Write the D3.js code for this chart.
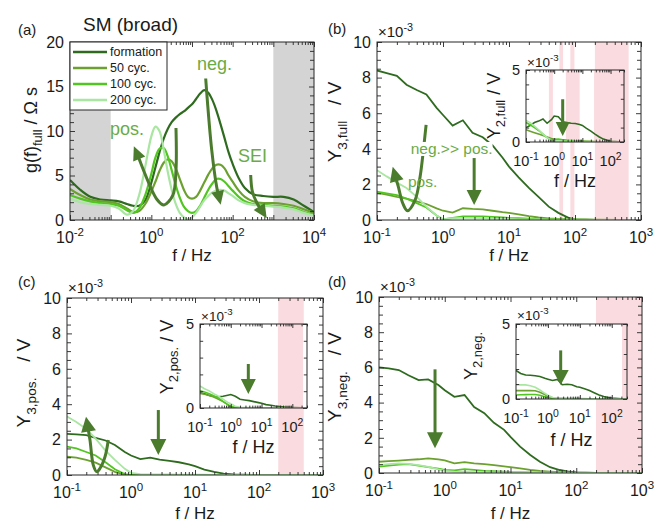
<!DOCTYPE html>
<html>
<head>
<meta charset="utf-8">
<script src="https://cdn.jsdelivr.net/npm/d3@7"></script>
<style>
  body { margin: 0; background: #fff; }
  svg { font-family: "Liberation Sans", Arial, Helvetica, sans-serif; }
</style>
</head>
<body>
<svg id="fig" width="654" height="524"></svg>
<script>
// ---- data ----
var names  = ["formation", "50 cyc.", "100 cyc.", "200 cyc."];
var colors = ["#2e6b1f", "#6ca12f", "#52c620", "#a9e6a1"];

// (a) distribution of relaxation times, x = log10(f / Hz), g in Ohm s
var logFa = [-2, -1.75, -1.5, -1.25, -1, -0.8, -0.6, -0.45, -0.3, -0.15, 0, 0.1, 0.2, 0.3, 0.4, 0.5, 0.6, 0.7, 0.8, 0.9,
             1.0, 1.1, 1.2, 1.3, 1.4, 1.5, 1.6, 1.7, 1.8, 1.9, 2.0, 2.15, 2.3, 2.5, 2.75, 3, 3.25, 3.5, 3.75, 4];
var gForm = [4.5, 3.4, 2.6, 2.3, 2.2, 2.1, 1.8, 1.6, 1.6, 2.2, 4.2, 5.9, 7.6, 9.1, 10.2, 11.0, 11.5, 11.9, 12.2, 12.6,
             13.0, 13.6, 14.2, 14.6, 14.3, 13.5, 12.3, 10.8, 9.2, 7.6, 6.3, 4.7, 3.6, 2.9, 2.7, 2.6, 2.6, 2.3, 1.6, 0.9];
var g50   = [3.5, 2.8, 2.3, 2.1, 2.0, 1.8, 1.3, 0.9, 1.0, 1.8, 3.2, 4.3, 5.5, 6.4, 6.8, 6.6, 5.8, 4.6, 3.4, 2.6,
             2.4, 2.6, 3.3, 4.2, 5.1, 5.8, 6.2, 6.2, 5.8, 5.0, 4.3, 3.3, 2.6, 2.1, 1.9, 1.9, 1.8, 1.6, 1.2, 0.8];
var g100  = [2.8, 2.4, 2.1, 1.9, 1.8, 1.6, 1.1, 0.8, 1.3, 2.8, 5.2, 7.0, 8.0, 8.1, 7.2, 5.6, 3.9, 2.5, 1.5, 1.0,
             0.8, 1.0, 1.6, 2.5, 3.4, 4.1, 4.6, 4.6, 4.3, 3.8, 3.3, 2.6, 2.1, 1.8, 1.7, 1.6, 1.5, 1.3, 0.9, 0.6];
var g200  = [2.4, 2.0, 1.8, 1.7, 1.6, 1.3, 0.6, 1.0, 2.8, 6.0, 9.4, 10.5, 10.0, 8.0, 5.5, 3.4, 1.8, 0.8, 0.3, 0.1,
             0.3, 0.8, 1.5, 2.2, 2.7, 3.1, 3.3, 3.4, 3.3, 3.0, 2.7, 2.2, 1.9, 1.7, 1.6, 1.5, 1.4, 1.2, 0.8, 0.5];

// (b)-(d) harmonics, f in Hz, Y in 1e-3 V
var freq = [0.1, 0.14, 0.2, 0.28, 0.4, 0.56, 0.8, 1, 1.4, 2, 2.8, 4, 5.6, 8, 10, 14, 20, 28, 40, 56, 80, 100, 200, 500, 1000];

var y3Full = [
  [8.4, 8.25, 8.1, 7.6, 7.3, 7.05, 6.3, 5.9, 5.3, 5.6, 4.9, 4.65, 4.2, 3.5, 3.0, 2.4, 1.8, 1.3, 0.75, 0.4, 0.12, 0.03, 0, 0, 0],
  [1.53, 1.42, 1.3, 1.2, 1.05, 0.9, 0.65, 0.52, 0.42, 0.66, 0.62, 0.6, 0.52, 0.44, 0.4, 0.32, 0.22, 0.14, 0.09, 0.06, 0.04, 0.03, 0.02, 0.01, 0.01],
  [1.6, 1.5, 1.4, 1.2, 0.95, 0.7, 0.25, 0.03, 0.12, 0.2, 0.2, 0.2, 0.18, 0.15, 0.12, 0.1, 0.07, 0.05, 0.04, 0.03, 0.02, 0.02, 0.01, 0.01, 0.01],
  [2.8, 2.45, 2.1, 1.8, 1.3, 0.75, 0.25, 0.05, 0.1, 0.12, 0.12, 0.1, 0.08, 0.06, 0.05, 0.04, 0.03, 0.03, 0.02, 0.02, 0.02, 0.02, 0.01, 0.01, 0.01]
];
var y2Full = [
  [1.0, 1.15, 1.35, 1.45, 1.6, 1.3, 1.55, 1.8, 1.75, 1.4, 1.35, 1.3, 1.28, 1.22, 1.15, 0.95, 0.75, 0.55, 0.35, 0.2, 0.1, 0.05, 0.01, 0, 0],
  [0.85, 0.75, 0.65, 0.55, 0.45, 0.35, 0.25, 0.2, 0.15, 0.15, 0.12, 0.1, 0.08, 0.07, 0.06, 0.05, 0.04, 0.03, 0.02, 0.02, 0.01, 0.01, 0.01, 0, 0],
  [1.35, 1.2, 1.0, 0.8, 0.55, 0.3, 0.15, 0.15, 0.2, 0.15, 0.1, 0.08, 0.06, 0.05, 0.04, 0.03, 0.02, 0.02, 0.01, 0.01, 0.01, 0.01, 0, 0, 0],
  [1.5, 1.35, 1.1, 0.85, 0.55, 0.3, 0.12, 0.08, 0.08, 0.06, 0.05, 0.04, 0.04, 0.03, 0.03, 0.02, 0.02, 0.02, 0.02, 0.01, 0.01, 0.01, 0.01, 0, 0]
];
var y3Pos = [
  [2.32, 2.3, 2.25, 2.1, 1.95, 1.7, 1.3, 1.1, 0.9, 0.98, 0.87, 0.8, 0.72, 0.6, 0.5, 0.3, 0.18, 0.08, 0.03, 0.02, 0.01, 0.01, 0, 0, 0],
  [1.03, 0.98, 0.85, 0.7, 0.43, 0.18, 0.02, 0, 0, 0, 0, 0, 0, 0, 0, 0, 0, 0, 0, 0, 0, 0, 0, 0, 0],
  [1.6, 1.5, 1.3, 1.1, 0.72, 0.32, 0.05, 0.01, 0, 0, 0, 0, 0, 0, 0, 0, 0, 0, 0, 0, 0, 0, 0, 0, 0],
  [3.3, 3.0, 2.6, 2.05, 1.38, 0.85, 0.35, 0.12, 0.05, 0.04, 0.03, 0.03, 0.02, 0.02, 0.02, 0.02, 0.01, 0.01, 0.01, 0.01, 0.01, 0.01, 0.01, 0.01, 0.01]
];
var y2Pos = [
  [0.91, 0.85, 0.75, 0.68, 0.66, 0.7, 0.76, 0.8, 0.7, 0.52, 0.48, 0.44, 0.38, 0.32, 0.28, 0.2, 0.16, 0.12, 0.09, 0.06, 0.04, 0.03, 0.01, 0, 0],
  [0.87, 0.82, 0.75, 0.66, 0.52, 0.38, 0.2, 0.08, 0.03, 0.01, 0, 0, 0, 0, 0, 0, 0, 0, 0, 0, 0, 0, 0, 0, 0],
  [1.03, 0.95, 0.85, 0.73, 0.6, 0.4, 0.2, 0.1, 0.03, 0.01, 0, 0, 0, 0, 0, 0, 0, 0, 0, 0, 0, 0, 0, 0, 0],
  [1.31, 1.15, 1.02, 0.85, 0.7, 0.52, 0.33, 0.25, 0.1, 0.04, 0.03, 0.02, 0.02, 0.01, 0.01, 0.01, 0.01, 0.01, 0.01, 0.01, 0.01, 0.01, 0.01, 0, 0]
];
var y3Neg = [
  [6.0, 5.95, 5.85, 5.55, 5.28, 5.32, 5.0, 4.7, 4.33, 4.43, 3.75, 3.4, 2.85, 2.45, 2.05, 1.5, 1.02, 0.64, 0.33, 0.17, 0.07, 0.03, 0.01, 0, 0],
  [0.64, 0.67, 0.7, 0.74, 0.78, 0.83, 0.78, 0.72, 0.55, 0.62, 0.55, 0.5, 0.45, 0.38, 0.33, 0.26, 0.18, 0.12, 0.08, 0.05, 0.03, 0.02, 0.01, 0, 0],
  [0.36, 0.42, 0.48, 0.5, 0.42, 0.33, 0.25, 0.18, 0.15, 0.22, 0.18, 0.12, 0.1, 0.08, 0.06, 0.05, 0.04, 0.03, 0.02, 0.02, 0.01, 0.01, 0, 0, 0],
  [0.45, 0.5, 0.55, 0.52, 0.45, 0.35, 0.2, 0.12, 0.08, 0.06, 0.05, 0.05, 0.04, 0.04, 0.04, 0.03, 0.03, 0.02, 0.02, 0.02, 0.01, 0.01, 0.01, 0, 0]
];
var y2Neg = [
  [1.9, 1.7, 1.6, 1.58, 1.55, 1.5, 1.38, 1.32, 1.23, 1.3, 0.95, 0.98, 0.95, 0.82, 0.78, 0.68, 0.56, 0.42, 0.27, 0.17, 0.1, 0.07, 0.02, 0, 0],
  [0.56, 0.56, 0.56, 0.56, 0.55, 0.45, 0.3, 0.18, 0.08, 0.05, 0.04, 0.03, 0.03, 0.02, 0.02, 0.02, 0.01, 0.01, 0.01, 0.01, 0, 0, 0, 0, 0],
  [0.27, 0.28, 0.29, 0.3, 0.3, 0.25, 0.15, 0.1, 0.03, 0.01, 0, 0, 0, 0, 0, 0, 0, 0, 0, 0, 0, 0, 0, 0, 0],
  [0.94, 0.95, 0.94, 0.88, 0.78, 0.6, 0.38, 0.25, 0.1, 0.06, 0.05, 0.05, 0.04, 0.04, 0.03, 0.03, 0.02, 0.02, 0.02, 0.01, 0.01, 0.01, 0.01, 0, 0]
];

// shaded frequency ranges (Hz)
var grayBandsA  = [[0.01, 0.1], [1000, 10000]];
var pinkBandsB  = [[58, 66], [85, 98], [200, 650]];
var pinkBandsBi = [[0.65, 0.9], [2.6, 8], [26, 300]];
var pinkBandsC  = [[200, 500]];
var pinkBandsCi = [[34, 224]];
var pinkBandsD  = [[200, 1000]];
var pinkBandsDi = [[210, 300]];

// ---- drawing ----
var svg = d3.select("#fig");
var AX = "#262626", ARROW = "#4b7b2c", NOTE = "#6aab46";
var clipN = 0;

function sup(sel, base, exp, size) {
  sel.append("tspan").text(base);
  sel.append("tspan").attr("dy", -size * 0.42).attr("font-size", size * 0.72).text(exp);
}

function axes(o) {
  var g = svg.append("g").attr("transform", "translate(" + o.left + "," + o.top + ")");
  var x = d3.scaleLog().domain(o.xDomain).range([0, o.w]);
  var y = d3.scaleLinear().domain(o.yDomain).range([o.h, 0]);

  g.append("rect").attr("width", o.w).attr("height", o.h).attr("fill", "#fff");
  o.bands.forEach(function(b) {
    g.append("rect").attr("x", x(b[0])).attr("width", x(b[1]) - x(b[0]))
      .attr("height", o.h).attr("fill", o.bandColor);
  });

  var id = "clip" + (clipN++);
  g.append("clipPath").attr("id", id).append("rect").attr("width", o.w).attr("height", o.h);
  var plot = g.append("g").attr("clip-path", "url(#" + id + ")");

  var line = d3.line().x(function(d) { return x(d[0]); }).y(function(d) { return y(d[1]); }).curve(o.curve);
  o.series.forEach(function(vals, i) {
    var pts = o.xs.map(function(f, k) { return [f, vals[k]]; });
    plot.append("path").attr("d", line(pts)).attr("fill", "none")
      .attr("stroke", colors[i]).attr("stroke-width", o.lw);
  });

  // log ticks
  var lo = Math.round(Math.log10(o.xDomain[0])), hi = Math.ceil(Math.log10(o.xDomain[1]));
  var major = [], minor = [];
  d3.range(lo, hi + 1).forEach(function(k) {
    d3.range(1, 10).forEach(function(m) {
      var v = m * Math.pow(10, k);
      if (v < o.xDomain[0] * 0.999 || v > o.xDomain[1] * 1.001) return;
      (m === 1 ? major : minor).push(v);
    });
  });
  var yMajor = d3.range(o.yDomain[0], o.yDomain[1] + 1e-9, o.yStep);
  var yMinor = d3.range(o.yDomain[0], o.yDomain[1] + 1e-9, o.yMinor).filter(function(v) {
    return yMajor.every(function(m) { return Math.abs(m - v) > 1e-9; });
  });
  function tk(axisFn, scale, vals, len, tr) {
    var a = g.append("g").attr("transform", tr || null)
      .call(axisFn(scale).tickValues(vals).tickSize(-len).tickFormat(""));
    a.select(".domain").remove();
    a.selectAll("line").attr("stroke", AX).attr("stroke-width", 0.9);
  }
  tk(d3.axisBottom, x, major, o.tl, "translate(0," + o.h + ")");
  tk(d3.axisBottom, x, minor, o.tl * 0.6, "translate(0," + o.h + ")");
  tk(d3.axisTop, x, major, o.tl);
  tk(d3.axisTop, x, minor, o.tl * 0.6);
  tk(d3.axisLeft, y, yMajor, o.tl);
  tk(d3.axisLeft, y, yMinor, o.tl * 0.8);
  tk(d3.axisRight, y, yMajor, o.tl, "translate(" + o.w + ",0)");
  tk(d3.axisRight, y, yMinor, o.tl * 0.8, "translate(" + o.w + ",0)");

  g.append("rect").attr("width", o.w).attr("height", o.h)
    .attr("fill", "none").attr("stroke", AX).attr("stroke-width", 1);

  // tick labels
  var fs = o.fs;
  major.forEach(function(v) {
    var e = Math.round(Math.log10(v));
    if (o.xLabelEvery && e % o.xLabelEvery !== 0) return;
    var t = g.append("text").attr("x", x(v)).attr("y", o.h + o.xLabelDy)
      .attr("text-anchor", "middle").attr("font-size", fs).attr("fill", "#1a1a1a");
    sup(t, "10", String(e), fs);
  });
  o.yLabels.forEach(function(v) {
    g.append("text").attr("x", -6).attr("y", y(v)).attr("dy", "0.36em")
      .attr("text-anchor", "end").attr("font-size", fs).attr("fill", "#1a1a1a").text(v);
  });
  if (o.scale) {
    var s = g.append("text").attr("x", 1).attr("y", o.scaleDy).attr("font-size", fs - 1).attr("fill", "#1a1a1a");
    sup(s, "\u00d710", "-3", fs - 1);
  }
  // axis titles
  g.append("text").attr("x", o.w / 2).attr("y", o.h + o.xTitleDy)
    .attr("text-anchor", "middle").attr("font-size", o.titleFs).attr("fill", "#1a1a1a").text("f / Hz");
  var yfs = o.yTitleFs;
  var yt = g.append("text")
    .attr("transform", "translate(" + o.yTitleX + "," + o.yTitleY + ") rotate(-90)")
    .attr("text-anchor", "middle").attr("font-size", yfs).attr("fill", "#1a1a1a");
  yt.append("tspan").text(o.yTitle[0]);
  yt.append("tspan").attr("dy", yfs * 0.3).attr("font-size", yfs * 0.72).text(o.yTitle[1]);
  if (o.yTitle[2]) yt.append("tspan").attr("dy", -yfs * 0.3).text(o.yTitle[2]);

  return { g: g, x: x, y: y };
}

function arrow(p, pts, hl, hw) {
  var P = pts.map(function(d) { return [p.x(d[0]), p.y(d[1])]; });
  var tip = P[P.length - 1], prev = P[P.length - 2];
  var dx = tip[0] - prev[0], dy = tip[1] - prev[1], L = Math.hypot(dx, dy);
  var ux = dx / L, uy = dy / L;
  var base = [tip[0] - ux * hl, tip[1] - uy * hl];
  var shaft = P.slice(0, -1).concat([[tip[0] - ux * hl * 0.5, tip[1] - uy * hl * 0.5]]);
  p.g.append("path").attr("d", d3.line().curve(d3.curveCatmullRom)(shaft))
    .attr("fill", "none").attr("stroke", ARROW).attr("stroke-width", 3);
  p.g.append("path")
    .attr("d", "M" + tip + "L" + [base[0] - uy * hw / 2, base[1] + ux * hw / 2] +
               "L" + [base[0] + uy * hw / 2, base[1] - ux * hw / 2] + "Z")
    .attr("fill", ARROW);
}

function note(p, f, v, txt, fs, bg) {
  var t = p.g.append("text").attr("x", p.x(f)).attr("y", p.y(v))
    .attr("font-size", fs).attr("fill", NOTE).text(txt);
  if (bg) {
    var b = t.node().getBBox();
    p.g.insert("rect", function() { return t.node(); })
      .attr("x", b.x).attr("y", b.y + 2).attr("width", b.width).attr("height", b.height - 3).attr("fill", "#fff");
  }
}

var fA = logFa.map(function(l) { return Math.pow(10, l); });
var smooth = d3.curveCatmullRom.alpha(0.5);

// (a)
var A = axes({ left: 70, top: 42, w: 244, h: 178, xDomain: [0.01, 10000], yDomain: [0, 20], yStep: 5, yMinor: 1,
  bands: grayBandsA, bandColor: "#d4d4d4", xs: fA, series: [gForm, g50, g100, g200], curve: smooth, lw: 2.2,
  tl: 5, fs: 16, xLabelEvery: 2, xLabelDy: 23, yLabels: [0, 5, 10, 15, 20], titleFs: 17, xTitleDy: 41,
  yTitleFs: 18, yTitleX: -33, yTitleY: 88, yTitle: ["g(f)", "full", " / \u03a9 s"] });

// (b)
var B = axes({ left: 377, top: 42, w: 264, h: 178, xDomain: [0.1, 1000], yDomain: [0, 10], yStep: 2, yMinor: 0.5,
  bands: pinkBandsB, bandColor: "#fadbdf", xs: freq, series: y3Full, curve: d3.curveLinear, lw: 1.8,
  tl: 5, fs: 16, xLabelDy: 23, yLabels: [0, 2, 4, 6, 8, 10], scale: true, scaleDy: -5, titleFs: 17, xTitleDy: 41,
  yTitleFs: 19, yTitleX: -36, yTitleY: 80, yTitle: ["Y", "3,full", "\u00a0\u00a0\u00a0/ V"] });
var Bi = axes({ left: 526, top: 70, w: 98, h: 72, xDomain: [0.1, 300], yDomain: [0, 5], yStep: 5, yMinor: 1,
  bands: pinkBandsBi, bandColor: "#fadbdf", xs: freq, series: y2Full, curve: d3.curveLinear, lw: 1.6,
  tl: 4, fs: 14.5, xLabelDy: 24, yLabels: [0, 5], scale: true, scaleDy: -3, titleFs: 18, xTitleDy: 45,
  yTitleFs: 18, yTitleX: -26, yTitleY: 36, yTitle: ["Y", "2,full", " / V"] });

// (c)
var C = axes({ left: 67, top: 298, w: 256, h: 177, xDomain: [0.1, 1000], yDomain: [0, 10], yStep: 2, yMinor: 0.5,
  bands: pinkBandsC, bandColor: "#fadbdf", xs: freq, series: y3Pos, curve: d3.curveLinear, lw: 1.8,
  tl: 5, fs: 16, xLabelDy: 23, yLabels: [0, 2, 4, 6, 8, 10], scale: true, scaleDy: -5, titleFs: 17, xTitleDy: 44,
  yTitleFs: 19, yTitleX: -37, yTitleY: 85, yTitle: ["Y", "3,pos.", "\u00a0\u00a0\u00a0/ V"] });
var Ci = axes({ left: 200, top: 324, w: 107, h: 84, xDomain: [0.1, 300], yDomain: [0, 5], yStep: 5, yMinor: 1,
  bands: pinkBandsCi, bandColor: "#fadbdf", xs: freq, series: y2Pos, curve: d3.curveLinear, lw: 1.6,
  tl: 4, fs: 14.5, xLabelDy: 24, yLabels: [0, 5], scale: true, scaleDy: -3, titleFs: 18, xTitleDy: 45,
  yTitleFs: 18, yTitleX: -27, yTitleY: 33, yTitle: ["Y", "2,pos.", " / V"] });

// (d)
var D = axes({ left: 379, top: 297, w: 263, h: 176, xDomain: [0.1, 1000], yDomain: [0, 10], yStep: 2, yMinor: 0.5,
  bands: pinkBandsD, bandColor: "#fadbdf", xs: freq, series: y3Neg, curve: d3.curveLinear, lw: 1.8,
  tl: 5, fs: 16, xLabelDy: 23, yLabels: [0, 2, 4, 6, 8, 10], scale: true, scaleDy: -5, titleFs: 17, xTitleDy: 46,
  yTitleFs: 19, yTitleX: -38, yTitleY: 80, yTitle: ["Y", "3,neg.", "\u00a0\u00a0\u00a0/ V"] });
var Di = axes({ left: 516, top: 324, w: 111, h: 75, xDomain: [0.1, 300], yDomain: [0, 5], yStep: 5, yMinor: 1,
  bands: pinkBandsDi, bandColor: "#fadbdf", xs: freq, series: y2Neg, curve: d3.curveLinear, lw: 1.6,
  tl: 4, fs: 14.5, xLabelDy: 24, yLabels: [0, 5], scale: true, scaleDy: -4, titleFs: 18, xTitleDy: 47,
  yTitleFs: 18, yTitleX: -39, yTitleY: 32, yTitle: ["Y", "2,neg."] });

// legend in (a)
var leg = A.g.append("g");
leg.append("rect").attr("width", 97).attr("height", 68).attr("fill", "#fff").attr("stroke", AX).attr("stroke-width", 1);
names.forEach(function(n, i) {
  var yy = 10 + i * 16;
  leg.append("line").attr("x1", 3).attr("x2", 37).attr("y1", yy).attr("y2", yy)
    .attr("stroke", colors[i]).attr("stroke-width", 2.5);
  leg.append("text").attr("x", 40).attr("y", yy).attr("dy", "0.35em").attr("font-size", 12.5).attr("fill", "#1a1a1a").text(n);
});

// annotations: points given as [f in Hz, value]
function lf(l) { return Math.pow(10, l); }
arrow(A, [[lf(0.606), 10.34], [lf(0.606), 5.6], [lf(0.53), 2.8], [lf(0.31), 1.69], [lf(0.14), 2.3], [lf(-0.33), 7.2], [lf(-0.43), 8.3]], 14, 13);
arrow(A, [[lf(1.337), 15.9], [lf(1.376), 13.5], [lf(1.484), 7.9], [lf(1.607), 3.7], [lf(1.705), 1.7]], 14, 13);
arrow(A, [[lf(2.443), 5.06], [lf(2.487), 3.15], [lf(2.598), 1.91], [lf(2.837), 0.19]], 14, 13);
note(A, 13.3, 16.85, "neg.", 18);
note(A, 0.0964, 9.55, "pos.", 18);
note(A, 135, 6.57, "SEI", 18);

arrow(B, [[lf(-0.256), 5.34], [lf(-0.297), 3.93], [lf(-0.347), 2.43], [lf(-0.423), 1.12], [lf(-0.54), 0.52], [lf(-0.61), 0.94], [lf(-0.677), 1.87], [lf(-0.762), 2.99]], 15, 14);
arrow(B, [[lf(0.472), 3.48], [lf(0.472), 0.84]], 15, 15);
note(B, 0.324, 3.71, "neg.>> pos.", 15.5, true);
note(B, 0.295, 1.85, "pos.", 15.5);
arrow(Bi, [[lf(0.302), 2.97], [lf(0.302), 0.42]], 14, 14);

arrow(C, [[lf(-0.355), 1.98], [lf(-0.406), 1.03], [lf(-0.484), 0.38], [lf(-0.536), 0.19], [lf(-0.589), 0.56], [lf(-0.641), 1.98], [lf(-0.703), 3.29]], 15, 15);
arrow(C, [[lf(0.427), 3.67], [lf(0.427), 1.13]], 16, 16);
arrow(Ci, [[lf(0.57), 2.62], [lf(0.57), 0.83]], 15, 15);

arrow(D, [[lf(-0.148), 5.89], [lf(-0.148), 1.40]], 16, 16);
arrow(Di, [[lf(0.40), 3.24], [lf(0.40), 0.94]], 15, 16);

// panel letters and title
var lab = [["(a)", 18, 35], ["(b)", 328, 34], ["(c)", 18, 287], ["(d)", 328, 287]];
lab.forEach(function(l) {
  svg.append("text").attr("x", l[1]).attr("y", l[2]).attr("font-size", 15).attr("fill", "#1a1a1a").text(l[0]);
});
svg.append("text").attr("x", 83).attr("y", 31).attr("font-size", 19).attr("fill", "#1a1a1a").text("SM (broad)");
</script>
</body>
</html>
